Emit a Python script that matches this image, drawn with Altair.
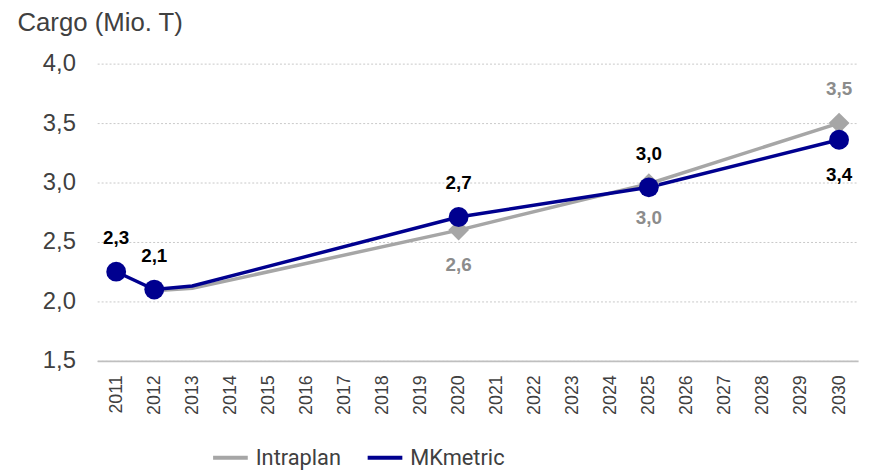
import altair as alt
import pandas as pd

years = [str(y) for y in range(2011, 2031)]

mk_years = ["2011", "2012", "2013", "2020", "2025", "2030"]
mk_values = [2.25, 2.10, 2.13, 2.71, 2.96, 3.36]
ip_years = ["2012", "2013", "2020", "2025", "2030"]
ip_values = [2.09, 2.11, 2.60, 2.99, 3.50]

mk_marker_years = ["2011", "2012", "2020", "2025", "2030"]
mk_marker_values = [2.25, 2.10, 2.71, 2.96, 3.36]
ip_marker_years = ["2020", "2025", "2030"]
ip_marker_values = [2.60, 2.99, 3.50]

mk_labels_above_years = ["2011", "2012", "2020", "2025"]
mk_labels_above_values = [2.25, 2.10, 2.71, 2.96]
mk_labels_above_text = ["2,3", "2,1", "2,7", "3,0"]
mk_labels_below_years = ["2030"]
mk_labels_below_values = [3.36]
mk_labels_below_text = ["3,4"]

ip_labels_below_years = ["2020", "2025"]
ip_labels_below_values = [2.60, 2.99]
ip_labels_below_text = ["2,6", "3,0"]
ip_labels_above_years = ["2030"]
ip_labels_above_values = [3.50]
ip_labels_above_text = ["3,5"]

series_names = ["Intraplan", "MKmetric"]
GRAY = "#A6A6A6"
GRAY_TXT = "#8C8C8C"
NAVY = "#00008F"
FONT = "Liberation Sans"

lines_df = pd.DataFrame({
    "year": ip_years + mk_years,
    "value": ip_values + mk_values,
    "series": ["Intraplan"] * len(ip_years) + ["MKmetric"] * len(mk_years),
})

x_enc = alt.X("year:O", scale=alt.Scale(domain=years, type="point", padding=0.5),
              axis=alt.Axis(title=None, labelAngle=-90, ticks=False, labelPadding=14,
                            labelFontSize=18, labelColor="#404040", labelFont=FONT,
                            domainColor="#BFBFBF", domainWidth=2, grid=False,
                            labelBaseline="middle", labelAlign="right"))
y_enc = alt.Y("value:Q", scale=alt.Scale(domain=[1.5, 4.0], nice=False, zero=False),
              axis=alt.Axis(values=[1.5, 2.0, 2.5, 3.0, 3.5, 4.0],
                            labelExpr="replace(format(datum.value, '.1f'), '.', ',')",
                            ticks=False, domain=False, labelPadding=22, labelFontSize=24,
                            labelFont=FONT, labelColor="#404040",
                            grid=True, gridDash=[2, 2], gridColor="#C8C8C8", gridWidth=1,
                            title="Cargo (Mio. T)", titleAngle=0, titleAlign="left",
                            titleBaseline="middle", titleX=-81, titleY=-41,
                            titleFontSize=26, titleFont=FONT, titleFontWeight="normal",
                            titleColor="#404040"))

base = alt.Chart(lines_df)

lines = base.mark_line(strokeWidth=3.5).encode(
    x=x_enc, y=y_enc,
    color=alt.Color("series:N", scale=alt.Scale(domain=series_names, range=[GRAY, NAVY]),
                    legend=alt.Legend(title=None, orient="none", legendX=115, legendY=378,
                                      direction="horizontal", symbolType="stroke",
                                      symbolSize=1225, symbolStrokeWidth=4,
                                      symbolOpacity=1,
                                      labelFontSize=22,
                                      labelFont="Roboto",
                                      labelColor="#404040",
                                      labelOffset=6, columnPadding=18, padding=0)),
    order=alt.Order("year:O"),
)


def pts(yrs, vals, shape, color, size):
    df = pd.DataFrame({"year": yrs, "value": vals})
    return alt.Chart(df).mark_point(shape=shape, filled=True, opacity=1, size=size,
                                    color=color).encode(x=alt.X("year:O"), y=alt.Y("value:Q"))


def lbl(yrs, vals, txt, color, dy):
    df = pd.DataFrame({"year": yrs, "value": vals, "label": txt})
    return alt.Chart(df).mark_text(fontSize=19, fontWeight="bold", font=FONT, color=color,
                                   dy=dy, baseline="middle", align="center").encode(
        x=alt.X("year:O"), y=alt.Y("value:Q"), text="label:N")


chart = alt.layer(
    lines,
    pts(ip_marker_years, ip_marker_values, "diamond", GRAY, 440),
    pts(mk_marker_years, mk_marker_values, "circle", NAVY, 400),
    lbl(mk_labels_above_years, mk_labels_above_values, mk_labels_above_text, "#000000", -34),
    lbl(mk_labels_below_years, mk_labels_below_values, mk_labels_below_text, "#000000", 36),
    lbl(ip_labels_below_years, ip_labels_below_values, ip_labels_below_text, GRAY_TXT, 35),
    lbl(ip_labels_above_years, ip_labels_above_values, ip_labels_above_text, GRAY_TXT, -34),
).properties(
    width=768, height=300,
    autosize=alt.AutoSizeParams(type="none"),
    padding={"left": 90, "top": 54, "right": 11, "bottom": 110},
).configure_view(stroke=None)

chart.save("out.html", embed_options={"renderer": "svg", "actions": False})
